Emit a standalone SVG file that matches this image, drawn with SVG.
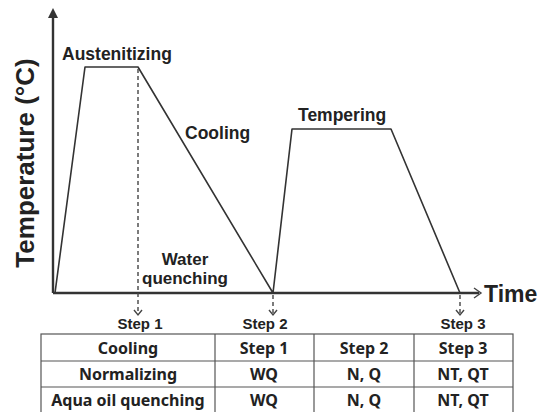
<svg xmlns="http://www.w3.org/2000/svg" width="542" height="412" viewBox="0 0 542 412">
<style>
.lbl{font-family:"Liberation Sans",Arial,sans-serif;font-weight:bold;fill:#222}
.tbl{font-family:"Noto Sans","Open Sans",sans-serif;font-weight:bold;font-size:16px;fill:#222;text-anchor:middle}
.curve{fill:none;stroke:#333;stroke-width:1.6;stroke-linejoin:round}
.axis{fill:none;stroke:#333;stroke-width:2.4}
.dash{fill:none;stroke:#444;stroke-width:1.4;stroke-dasharray:4 3}
.chev{fill:none;stroke:#444;stroke-width:1.4}
.grid{fill:none;stroke:#555;stroke-width:1.2}
</style>
<rect width="542" height="412" fill="#fff"/>
<g id="axes">
<line class="axis" x1="53" y1="293" x2="53" y2="12"/>
<path d="M48,18 L53,8 L58,18 Z" fill="#333"/>
<line class="axis" x1="53" y1="293" x2="479" y2="293"/>
<path class="chev" d="M474,288 L481,293 L474,298" stroke-width="2"/>
</g>
<g id="connectors">
<polyline class="curve" points="55,293 85,67 138,67 273,293 292,129 391,129 460,293"/>
<line class="dash" x1="138" y1="69" x2="138" y2="314"/>
<path class="chev" d="M134,310 L138,315 L142,310"/>
<line class="dash" x1="273" y1="295" x2="273" y2="314"/>
<path class="chev" d="M269,310 L273,315 L277,310"/>
<line class="dash" x1="460" y1="295" x2="460" y2="314"/>
<path class="chev" d="M456,310 L460,315 L464,310"/>
</g>
<g id="labels">
<text class="lbl" font-size="26" transform="translate(34,163) rotate(-90)" text-anchor="middle">Temperature (°C)</text>
<text class="lbl" font-size="23" x="484" y="302">Time</text>
<text class="lbl" font-size="17.5" x="62" y="60">Austenitizing</text>
<text class="lbl" font-size="17.5" x="185" y="139">Cooling</text>
<text class="lbl" font-size="17.5" x="298" y="121">Tempering</text>
<text class="lbl" font-size="17" x="185" y="265" text-anchor="middle">Water</text>
<text class="lbl" font-size="17" x="185" y="284" text-anchor="middle">quenching</text>
<text class="lbl" font-size="15" x="140" y="329" text-anchor="middle">Step 1</text>
<text class="lbl" font-size="15" x="265" y="329" text-anchor="middle">Step 2</text>
<text class="lbl" font-size="15" x="463" y="329" text-anchor="middle">Step 3</text>
</g>
<g id="table">
<rect class="grid" x="41" y="334" width="472" height="80"/>
<line class="grid" x1="41" y1="361" x2="513" y2="361"/>
<line class="grid" x1="41" y1="387" x2="513" y2="387"/>
<line class="grid" x1="215" y1="334" x2="215" y2="412"/>
<line class="grid" x1="314" y1="334" x2="314" y2="412"/>
<line class="grid" x1="414" y1="334" x2="414" y2="412"/>
<text class="tbl" x="128" y="354">Cooling</text>
<text class="tbl" x="264" y="354">Step 1</text>
<text class="tbl" x="364" y="354">Step 2</text>
<text class="tbl" x="463" y="354">Step 3</text>
<text class="tbl" x="128" y="380">Normalizing</text>
<text class="tbl" x="264" y="380">WQ</text>
<text class="tbl" x="364" y="380">N, Q</text>
<text class="tbl" x="463" y="380">NT, QT</text>
<text class="tbl" x="128" y="406">Aqua oil quenching</text>
<text class="tbl" x="264" y="406">WQ</text>
<text class="tbl" x="364" y="406">N, Q</text>
<text class="tbl" x="463" y="406">NT, QT</text>
</g>
</svg>
